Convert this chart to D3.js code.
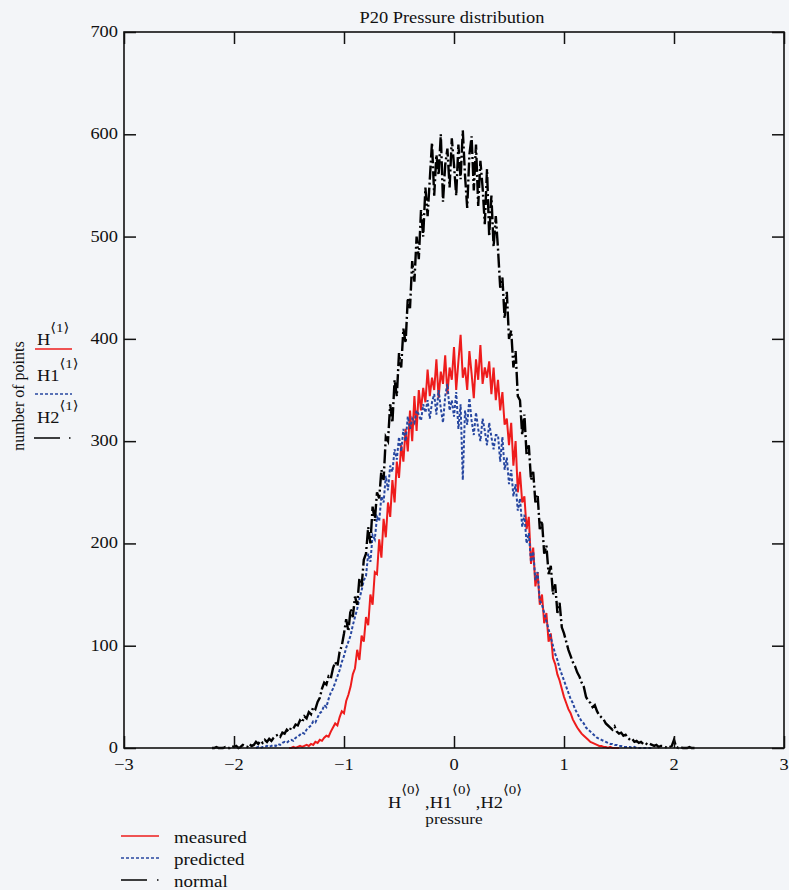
<!DOCTYPE html>
<html>
<head>
<meta charset="utf-8">
<script src="https://cdn.jsdelivr.net/npm/d3@7"></script>
<style>
  body { margin: 0; background: #f3f5f8; }
  svg { display: block; }
  text { font-family: "Liberation Serif", "DejaVu Serif", serif; fill: #111; }
</style>
</head>
<body>
<div id="chart"></div>
<script>
// histogram bins: value counts per 0.02 wide pressure bin
var binWidth = 0.02;

// H2 - normal
var normalStart = -2.2;
var normalCounts = [
  0, 0, 1, 0, 0, 0, 1, 0, 0, 2,
  1, 2, 0, 1, 3, 2, 1, 4, 2, 3,
  6, 4, 7, 5, 8, 6, 9, 7, 10, 12,
  13, 11, 15, 14, 18, 16, 20, 19, 23, 22,
  27, 25, 31, 29, 35, 33, 40, 38, 45, 49,
  58, 64, 62, 70, 68, 78, 84, 80, 94, 100,
  112, 126, 114, 136, 128, 148, 140, 166, 158, 184,
  190, 216, 200, 236, 222, 250, 244, 272, 262, 304,
  300, 336, 318, 360, 344, 386, 372, 410, 396, 440,
  430, 476, 456, 500, 478, 526, 500, 548, 520, 556,
  592, 540, 580, 560, 600, 534, 570, 586, 548, 596,
  570, 540, 590, 556, 604, 560, 528, 580, 598, 545,
  590, 530, 574, 548, 512, 566, 500, 540, 490, 520,
  488, 450, 460, 420, 446, 400, 408, 372, 388, 344,
  340, 306, 326, 286, 296, 262, 270, 240, 248, 214,
  222, 190, 198, 170, 178, 150, 160, 132, 142, 118,
  112, 104, 96, 90, 84, 80, 74, 70, 64, 60,
  50, 46, 44, 40, 42, 36, 32, 30, 28, 24,
  22, 20, 18, 21, 16, 14, 15, 12, 13, 10,
  8, 9, 6, 7, 5, 6, 4, 5, 3, 4,
  3, 2, 3, 1, 2, 2, 1, 0, 1, 2,
  8, 1, 0, 1, 0, 0, 0, 1, 0, 0,
  0
];

// H - measured
var measuredStart = -1.5;
var measuredCounts = [
  0, 0, 1, 0, 1, 2, 1, 2, 3, 2,
  4, 3, 6, 5, 8, 7, 10, 12, 11, 16,
  20, 24, 22, 30, 36, 34, 46, 52, 60, 72,
  78, 96, 86, 110, 104, 128, 120, 150, 140, 172,
  170, 204, 186, 224, 206, 240, 226, 262, 240, 280,
  264, 296, 280, 312, 290, 330, 300, 344, 310, 350,
  330, 352, 338, 370, 344, 362, 350, 380, 342, 368,
  356, 384, 346, 372, 360, 392, 350, 378, 404, 362,
  372, 350, 388, 366, 342, 380, 360, 394, 356, 372,
  362, 378, 346, 372, 340, 360, 330, 348, 316, 322,
  296, 318, 276, 300, 250, 270, 240, 246, 214, 226,
  180, 196, 158, 172, 140, 150, 122, 132, 104, 112,
  88, 82, 72, 66, 58, 50, 44, 38, 34, 28,
  24, 20, 17, 14, 12, 10, 8, 6, 5, 4,
  3, 2, 2, 1, 1, 0, 1, 0, 0, 0,
  0
];

// H1 - predicted
var predictedStart = -1.8;
var predictedCounts = [
  0, 1, 0, 1, 1, 2, 1, 2, 3, 2,
  4, 3, 5, 6, 5, 7, 8, 7, 10, 11,
  13, 15, 14, 18, 20, 22, 26, 25, 30, 34,
  36, 42, 40, 48, 54, 58, 64, 70, 76, 84,
  90, 98, 104, 110, 120, 128, 136, 146, 154, 164,
  168, 190, 182, 208, 204, 226, 222, 246, 240, 266,
  252, 276, 270, 292, 282, 304, 290, 312, 300, 324,
  312, 322, 318, 330, 326, 320, 336, 328, 340, 322,
  338, 346, 326, 350, 332, 318, 344, 356, 330, 340,
  324, 348, 312, 336, 262, 330, 316, 342, 320, 306,
  328, 312, 300, 322, 310, 296, 318, 304, 292, 306,
  306, 280, 304, 272, 284, 258, 272, 246, 258, 232,
  244, 216, 228, 200, 210, 182, 192, 164, 172, 144,
  140, 132, 124, 116, 108, 100, 92, 86, 78, 72,
  66, 60, 54, 48, 44, 38, 34, 30, 26, 24,
  20, 18, 16, 14, 12, 10, 9, 8, 7, 6,
  5, 4, 4, 3, 3, 2, 2, 1, 1, 1,
  1, 0, 1, 0, 0, 0, 0, 0, 0, 0,
  0
];

var xTicks = [-3, -2, -1, 0, 1, 2, 3];
var yTicks = [0, 100, 200, 300, 400, 500, 600, 700];
var legendNames = ["measured", "predicted", "normal"];

var width = 789, height = 890;
var plotLeft = 124, plotRight = 784, plotTop = 32, plotBottom = 748;
var stretch = 1.15; // scanned text is wider than tall

var svg = d3.select("#chart").append("svg")
    .attr("width", width)
    .attr("height", height);

var x = d3.scaleLinear().domain([-3, 3]).range([plotLeft, plotRight]);
var y = d3.scaleLinear().domain([0, 700]).range([plotBottom, plotTop]);

function label(g, tx, ty, anchor, size, str) {
    return g.append("text")
        .attr("transform", "translate(" + tx + "," + ty + ") scale(" + stretch + ",1)")
        .attr("text-anchor", anchor)
        .style("font-size", size + "px")
        .text(str);
}

// title
label(svg, 452, 23, "middle", 16, "P20 Pressure distribution");

// series
var series = [
    { start: measuredStart, counts: measuredCounts, color: "#ee1c1c", dash: null, w: 2 },
    { start: predictedStart, counts: predictedCounts, color: "#2747a0", dash: "3,2", w: 2 },
    { start: normalStart, counts: normalCounts, color: "#000", dash: "14,3,2,3", w: 2.4 }
];

var line = d3.line()
    .x(function (d) { return x(d[0]); })
    .y(function (d) { return y(d[1]); });

series.forEach(function (s) {
    var pts = s.counts.map(function (c, i) { return [s.start + i * binWidth, c]; });
    svg.append("path")
        .attr("d", line(pts))
        .attr("fill", "none")
        .attr("stroke", s.color)
        .attr("stroke-width", s.w)
        .attr("stroke-dasharray", s.dash);
});

// axes: ticks point inward on all four sides
var tick = 12;
function noDomain(g) { g.select(".domain").remove(); }
svg.append("g")
    .attr("transform", "translate(0," + plotBottom + ")")
    .call(d3.axisTop(x).tickValues(xTicks).tickSize(tick).tickFormat(""))
    .call(noDomain);
svg.append("g")
    .attr("transform", "translate(0," + plotTop + ")")
    .call(d3.axisBottom(x).tickValues(xTicks).tickSize(tick).tickFormat(""))
    .call(noDomain);
svg.append("g")
    .attr("transform", "translate(" + plotLeft + ",0)")
    .call(d3.axisRight(y).tickValues(yTicks).tickSize(tick).tickFormat(""))
    .call(noDomain);
svg.append("g")
    .attr("transform", "translate(" + plotRight + ",0)")
    .call(d3.axisLeft(y).tickValues(yTicks).tickSize(tick).tickFormat(""))
    .call(noDomain);
svg.selectAll(".tick line").attr("stroke", "#111").attr("stroke-width", 1.5);

svg.append("rect")
    .attr("x", plotLeft).attr("y", plotTop)
    .attr("width", plotRight - plotLeft).attr("height", plotBottom - plotTop)
    .attr("fill", "none")
    .attr("stroke", "#111")
    .attr("stroke-width", 1.6);

// tick labels
xTicks.forEach(function (t) {
    label(svg, x(t), 770, "middle", 16, t < 0 ? "\u2212" + (-t) : String(t));
});
yTicks.forEach(function (t) {
    label(svg, plotLeft - 6, y(t) + 5, "end", 16, String(t));
});

// y axis label and trace names
svg.append("text")
    .attr("transform", "translate(24,396) rotate(-90)")
    .attr("text-anchor", "middle")
    .style("font-size", "16px")
    .text("number of points");

function traceName(tx, ty, base, sup) {
    var t = svg.append("text")
        .attr("transform", "translate(" + tx + "," + ty + ") scale(" + stretch + ",1)")
        .style("font-size", "16px");
    t.append("tspan").text(base);
    t.append("tspan").attr("dy", -13).style("font-size", "13px").text("\u27e8" + sup + "\u27e9");
    return t;
}
traceName(37, 345, "H", "1");
traceName(37, 381, "H1", "1");
traceName(37, 423, "H2", "1");

svg.append("line").attr("x1", 35).attr("x2", 72).attr("y1", 349).attr("y2", 349)
    .attr("stroke", series[0].color).attr("stroke-width", 1.5);
svg.append("line").attr("x1", 35).attr("x2", 72).attr("y1", 394).attr("y2", 394)
    .attr("stroke", series[1].color).attr("stroke-width", 1.5).attr("stroke-dasharray", "3,2");
svg.append("line").attr("x1", 34).attr("x2", 72).attr("y1", 438).attr("y2", 438)
    .attr("stroke", "#000").attr("stroke-width", 1.5).attr("stroke-dasharray", "26,9,1.5,9");

// x axis label
var xl = svg.append("text")
    .attr("transform", "translate(388,808) scale(" + stretch + ",1)")
    .style("font-size", "16px");
[["H", "0"], [" ,H1", "0"], [" ,H2", "0"]].forEach(function (p, i) {
    xl.append("tspan").attr("dy", i === 0 ? 0 : 14).text(p[0]);
    xl.append("tspan").attr("dy", -14).style("font-size", "13px").text("\u27e8" + p[1] + "\u27e9");
});
label(svg, 454, 824, "middle", 15, "pressure");

// bottom legend
var legendY = [836, 858, 880];
var legendStyle = [
    { color: series[0].color, dash: null },
    { color: series[1].color, dash: "3,2" },
    { color: "#000", dash: "26,10,1.5,10" }
];
legendNames.forEach(function (n, i) {
    svg.append("line")
        .attr("x1", 121).attr("x2", 159)
        .attr("y1", legendY[i]).attr("y2", legendY[i])
        .attr("stroke", legendStyle[i].color)
        .attr("stroke-width", 1.6)
        .attr("stroke-dasharray", legendStyle[i].dash);
    label(svg, 174, legendY[i] + 7, "start", 16.5, n);
});
</script>
</body>
</html>
